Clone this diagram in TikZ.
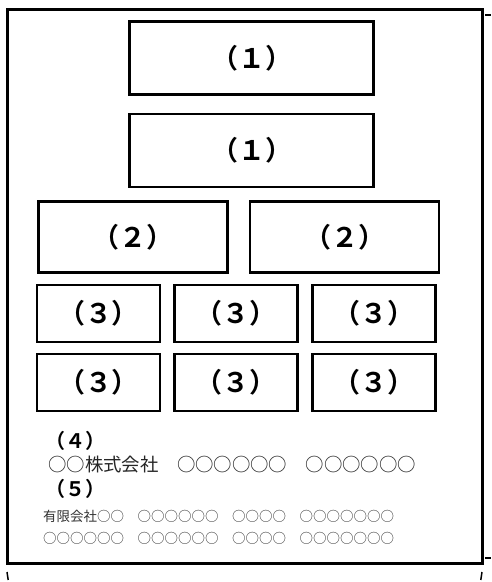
\documentclass[tikz,border=0pt]{standalone}
\usepackage{fontspec}
\setmainfont{Noto Sans CJK JP}
\newfontfamily\jpfont[Kerning=Off]{Noto Sans CJK JP}
\newfontfamily\jpbold[Kerning=Off]{Noto Sans CJK JP Bold}
\newcommand\boxlbl[2][-2pt]{\raisebox{#1}{#2}}
\begin{document}
\begin{tikzpicture}[x=1pt,y=-1pt,
  frame/.style={draw=black,line width=3pt},
  boxnode/.style={draw=black,line width=2.5pt,rectangle,inner sep=0pt,
     font=\jpbold\fontsize{27}{27}\selectfont},
  wide/.style={boxnode,minimum width=244pt,minimum height=73pt},
  half/.style={boxnode,minimum width=189pt,minimum height=71pt},
  small/.style={boxnode,minimum width=123pt,minimum height=57pt},
  head/.style={anchor=west,inner sep=0pt,font=\jpbold\fontsize{20}{20}\selectfont},
  bigline/.style={anchor=west,inner sep=0pt,text=black!85,font=\jpfont\fontsize{18.4}{18.4}\selectfont},
  smallline/.style={anchor=west,inner sep=0pt,text=black!80,font=\jpfont\fontsize{13.5}{13.5}\selectfont},
  crop/.style={line width=1.5pt,black}]
\useasboundingbox (0,0) rectangle (491,582);
\fill[white] (0,0) rectangle (491,582);
% outer frame
\draw[frame] (7.5,9.5) rectangle (482.5,563);
% crop marks
\coordinate (tr1) at (485,15); \coordinate (tr2) at (491,15);
\coordinate (br1) at (485,558); \coordinate (br2) at (491,558);
\coordinate (bl1) at (7,572); \coordinate (bl2) at (8.2,580);
\coordinate (bq1) at (482,572); \coordinate (bq2) at (480.8,580);
\draw[crop] (tr1) -- (tr2);
\draw[crop] (br1) -- (br2);
\draw[crop] (bl1) -- (bl2);
\draw[crop] (bq1) -- (bq2);
% boxes
\node[wide] (b1a) at (251.5,58) {\boxlbl{（１）}};
\node[wide] (b1b) at (251.5,150.5) {\boxlbl{（１）}};
\node[half] (b2a) at (133,237) {\boxlbl{（２）}};
\node[half] (b2b) at (344.5,237) {\boxlbl{（２）}};
\node[small] (b3a) at (98.5,313.5) {\boxlbl{（３）}};
\node[small] (b3b) at (236,313.5) {\boxlbl{（３）}};
\node[small] (b3c) at (374,313.5) {\boxlbl{（３）}};
\node[small] (b3d) at (98.5,382.5) {\boxlbl{（３）}};
\node[small] (b3e) at (236,382.5) {\boxlbl{（３）}};
\node[small] (b3f) at (374,382.5) {\boxlbl[-5pt]{（３）}};
% texts
\node[head] (h4) at (45,441) {（４）};
\node[bigline] (l4) at (48,465) {○○株式会社　○○○○○○　○○○○○○};
\node[head] (h5) at (45,489) {（５）};
\node[smallline] (l5) at (43,516) {有限会社○○　○○○○○○　○○○○　○○○○○○○};
\node[smallline] (l6) at (43,538) {○○○○○○　○○○○○○　○○○○　○○○○○○○};
\end{tikzpicture}
\end{document}
